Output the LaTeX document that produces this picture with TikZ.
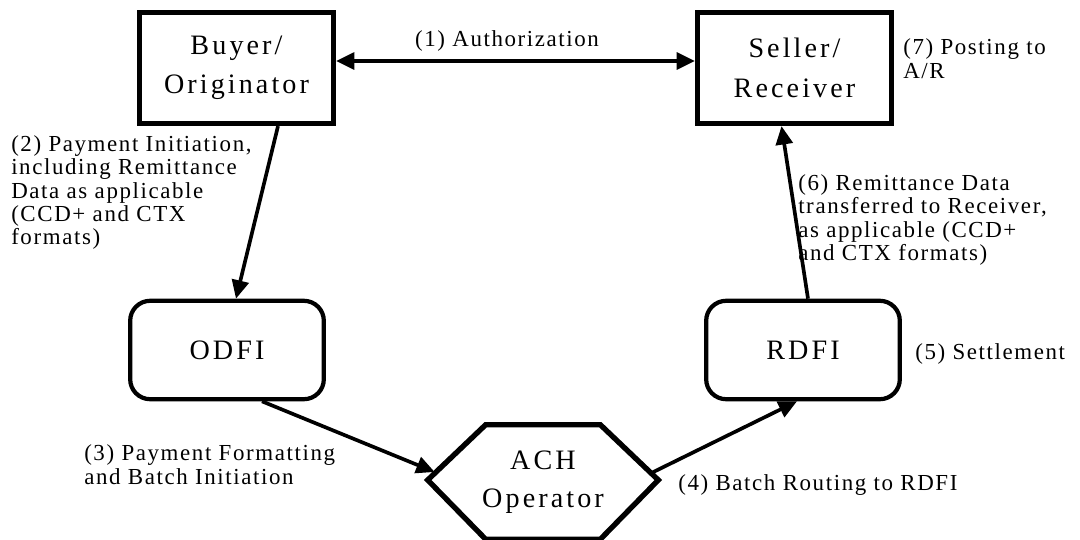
\documentclass[tikz,border=0pt]{standalone}
\usepackage{fontspec}
\setmainfont{Liberation Serif}[LetterSpace=7]
\usetikzlibrary{arrows.meta}

\begin{document}
\begin{tikzpicture}[
    x=0.025cm, y=-0.025cm,
    party/.style={draw, line width=3.8pt, minimum width=4.84cm, minimum height=2.77cm,
        align=center, font=\fontsize{20}{28}\selectfont\addfontfeature{LetterSpace=11}},
    bank/.style={draw, line width=3pt, rounded corners=0.5cm, minimum width=4.84cm,
        minimum height=2.46cm, align=center, font=\fontsize{20}{28}\selectfont\addfontfeature{LetterSpace=11}},
    hub/.style={minimum width=5.75cm, minimum height=2.85cm, inner sep=0pt,
        align=center, font=\fontsize{20}{27}\selectfont\addfontfeature{LetterSpace=11}},
    hubline/.style={line width=3.8pt, line join=miter},
    flow/.style={line width=2.6pt, -{Triangle[length=0.46cm,width=0.42cm]}},
    flowboth/.style={line width=2.6pt, {Triangle[length=0.46cm,width=0.42cm]}-{Triangle[length=0.46cm,width=0.42cm]}},
    note/.style={align=left, inner sep=0pt, font=\fontsize{16.3}{16.6}\selectfont}
]
\useasboundingbox (0,0) rectangle (1080,540);

% === parties ===
\node[party] (buyer) at (236.5,68) {Buyer/\\Originator};
\node[party] (seller) at (794.5,68) {Seller/\\Receiver};

% === banks ===
\node[bank] (odfi) at (227,350) {ODFI};
\node[bank] (rdfi) at (803,350) {RDFI};

% === ACH operator (hexagon) ===
\node[hub] (ach) at (543,482) {ACH\\Operator};
\draw[hubline] ([shift={(0,-2)}]ach.west) -- ([shift={(58,0)}]ach.north west)
    -- ([shift={(-58,0)}]ach.north east) -- ([shift={(0,-2)}]ach.east)
    -- ([shift={(-58,0)}]ach.south east) -- ([shift={(58,0)}]ach.south west) -- cycle;
\coordinate (achin) at ([shift={(7,-10)}]ach.west);
\coordinate (achout) at ([shift={(-7,-9)}]ach.east);

% === flows ===
\draw[flowboth] ([shift={(0,-7)}]buyer.east) -- ([shift={(0,-7)}]seller.west);
\draw[flow] ([shift={(41.5,0)}]buyer.south) -- ([shift={(9,0)}]odfi.north);
\draw[flow] ([shift={(35,0)}]odfi.south) -- (achin);
\draw[flow] (achout) -- ([shift={(-6,0)}]rdfi.south);
\draw[flow] ([shift={(5,0)}]rdfi.north) -- ([shift={(-13,0)}]seller.south);

% === step labels ===
\node[note] (n1) at (507,41) {(1) Authorization};
\node[note, anchor=west] (n2) at (11,192.5) {(2) Payment Initiation,\\including Remittance\\Data as applicable\\(CCD+ and CTX\\formats)};
\node[note, anchor=west] (n3) at (84,464.5) {(3) Payment Formatting\\and Batch Initiation};
\node[note, anchor=west] (n4) at (678,485) {(4) Batch Routing to RDFI};
\node[note, anchor=west] (n5) at (915,354) {(5) Settlement};
\node[note, anchor=west] (n6) at (798,220) {(6) Remittance Data\\transferred to Receiver,\\as applicable (CCD+\\and CTX formats)};
\node[note, anchor=west] (n7) at (903,58.5) {(7) Posting to\\A/R};

\end{tikzpicture}
\end{document}
